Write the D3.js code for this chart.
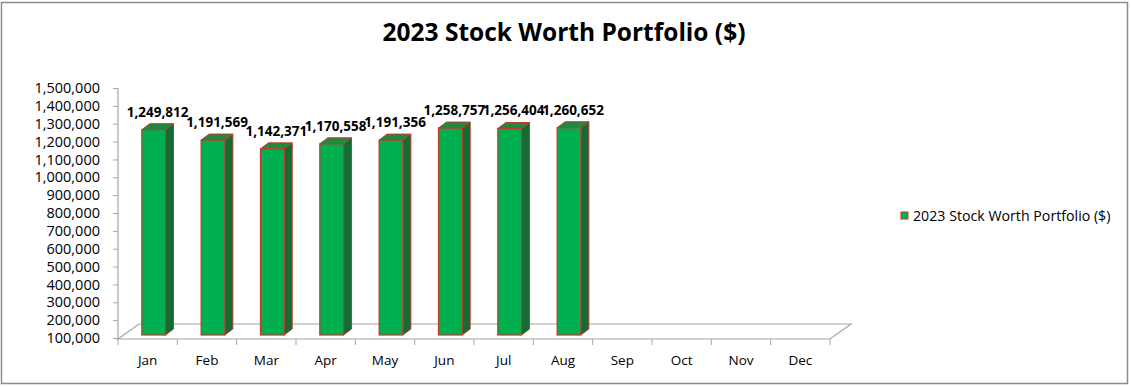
<!DOCTYPE html>
<html>
<head>
<meta charset="utf-8">
<script src="https://cdn.jsdelivr.net/npm/d3@7"></script>
<style>
  body { margin: 0; background: #fff; }
  svg { display: block; font-family: "Open Sans", sans-serif; }
</style>
</head>
<body>
<svg id="chart"></svg>
<script>
// Chart values
const months = ['Jan', 'Feb', 'Mar', 'Apr', 'May', 'Jun', 'Jul', 'Aug', 'Sep', 'Oct', 'Nov', 'Dec'];
const worth = [1249812, 1191569, 1142371, 1170558, 1191356, 1258757, 1256404, 1260652, null, null, null, null];
const yTicks = [100000, 200000, 300000, 400000, 500000, 600000, 700000, 800000, 900000, 1000000, 1100000, 1200000, 1300000, 1400000, 1500000];
const seriesName = '2023 Stock Worth Portfolio ($)';
const chartTitle = '2023 Stock Worth Portfolio ($)';

const W = 1131, H = 387;
const svg = d3.select('#chart').attr('width', W).attr('height', H);

// Outer chart border
svg.append('rect')
    .attr('x', 1.5).attr('y', 2.5)
    .attr('width', 1126).attr('height', 381)
    .attr('fill', '#fff')
    .attr('stroke', '#8c8c8c')
    .attr('stroke-width', 1.5);

// Plot area
const plotLeft = 118, plotRight = 830, plotTop = 88, plotBottom = 339;
const depthX = 21, depthY = -15;        // floor depth
const barShiftX = 6, barShiftY = -3;    // bars sit part way into the floor
const barDX = 8, barDY = -6;            // depth of each bar

const x = d3.scaleBand().domain(months).range([plotLeft, plotRight]).paddingInner(0.6).paddingOuter(0.3);
const y = d3.scaleLinear().domain([100000, 1500000]).range([plotBottom - 1, plotTop]);

// Title
svg.append('text')
    .attr('x', 564).attr('y', 41)
    .attr('text-anchor', 'middle')
    .attr('font-size', 24.5)
    .attr('font-weight', 'bold')
    .attr('fill', '#000')
    .text(chartTitle);

// 3D floor
const axisColor = '#a6a6a6';
svg.append('path')
    .attr('d', `M${plotLeft},${plotBottom} L${plotRight},${plotBottom} L${plotRight + depthX},${plotBottom + depthY} L${plotLeft + depthX},${plotBottom + depthY} Z`)
    .attr('fill', 'none')
    .attr('stroke', axisColor)
    .attr('stroke-width', 1.2);

// Y axis
const yAxis = d3.axisLeft(y)
    .tickValues(yTicks)
    .tickSize(5)
    .tickPadding(13)
    .tickFormat(d3.format(','));
const gy = svg.append('g')
    .attr('transform', `translate(${plotLeft},0)`)
    .call(yAxis);
gy.select('.domain').attr('stroke', axisColor).attr('stroke-width', 1.2).attr('d', `M0,${plotTop}V${plotBottom}`);
gy.selectAll('.tick line').attr('stroke', axisColor);
gy.selectAll('.tick text')
    .attr('font-size', 14.5)
    .attr('font-family', '"Open Sans", sans-serif')
    .attr('fill', '#000');

// X axis
const xAxis = d3.axisBottom(x).tickSize(0).tickPadding(16);
const gx = svg.append('g')
    .attr('transform', `translate(0,${plotBottom})`)
    .call(xAxis);
gx.select('.domain').remove();
gx.selectAll('.tick text')
    .attr('font-size', 13.5)
    .attr('font-family', '"Open Sans", sans-serif')
    .attr('fill', '#000');
// category boundary ticks
const step = x.step();
svg.append('g').selectAll('line')
    .data(d3.range(months.length + 1))
    .enter().append('line')
    .attr('x1', i => plotLeft + i * step).attr('x2', i => plotLeft + i * step)
    .attr('y1', plotBottom).attr('y2', plotBottom + 6)
    .attr('stroke', axisColor);

// Bars (3D boxes)
const barData = months.map((m, i) => ({ month: m, value: worth[i] })).filter(d => d.value != null);
const bw = x.bandwidth();
const stroke = '#c0392b';
const bars = svg.append('g').selectAll('g')
    .data(barData)
    .enter().append('g');

bars.each(function (d) {
    const g = d3.select(this);
    const x0 = x(d.month) + barShiftX;
    const x1 = x0 + bw;
    const yb = y(100000) + barShiftY;
    const yt = y(d.value) + barShiftY;
    // side
    g.append('path')
        .attr('d', `M${x1},${yb} L${x1 + barDX},${yb + barDY} L${x1 + barDX},${yt + barDY} L${x1},${yt} Z`)
        .attr('fill', '#156b34').attr('stroke', stroke).attr('stroke-width', 1).attr('stroke-linejoin', 'round');
    // top
    g.append('path')
        .attr('d', `M${x0},${yt} L${x0 + barDX},${yt + barDY} L${x1 + barDX},${yt + barDY} L${x1},${yt} Z`)
        .attr('fill', '#1f8a3e').attr('stroke', stroke).attr('stroke-width', 1).attr('stroke-linejoin', 'round');
    // front
    g.append('rect')
        .attr('x', x0).attr('y', yt)
        .attr('width', bw).attr('height', yb - yt)
        .attr('fill', '#00b050').attr('stroke', stroke).attr('stroke-width', 1.2);
    // value label
    g.append('text')
        .attr('x', x0 + (bw + barDX) / 2)
        .attr('y', yt + barDY - 7)
        .attr('text-anchor', 'middle')
        .attr('font-size', 13.5)
        .attr('font-weight', 'bold')
        .attr('fill', '#000')
        .text(d3.format(',')(d.value));
});

// Legend
const lg = svg.append('g').attr('transform', 'translate(901,212)');
lg.append('rect')
    .attr('width', 7).attr('height', 7)
    .attr('fill', '#00b050').attr('stroke', stroke).attr('stroke-width', 1);
lg.append('text')
    .attr('x', 12).attr('y', 8.5)
    .attr('font-size', 14.2)
    .attr('fill', '#000')
    .text(seriesName);
</script>
</body>
</html>
